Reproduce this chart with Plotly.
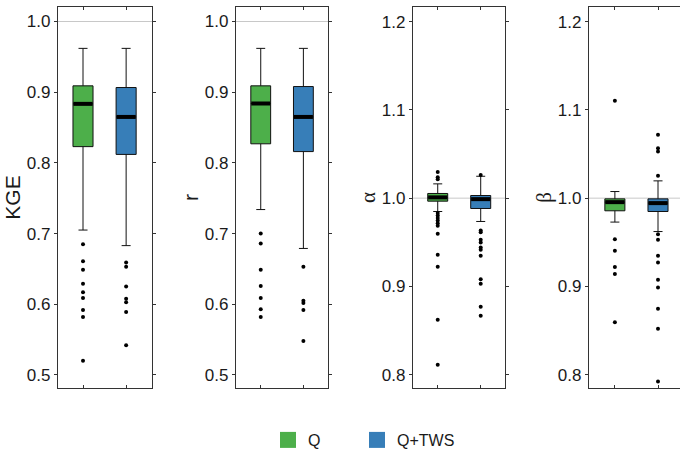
import plotly.graph_objects as go

# ---------------- data ----------------
groups = ["Q", "Q+TWS"]
colors = ["#4daf4a", "#377eb8"]
metrics = ["KGE", "r", "α", "β"]

# stats: [lowerfence, q1, median, q3, upperfence]
kge_q_stats = [0.705, 0.823, 0.8835, 0.909, 0.962]
kge_q_out = [0.685, 0.661, 0.649, 0.629, 0.617, 0.609, 0.592, 0.582, 0.520]
kge_qt_stats = [0.683, 0.812, 0.865, 0.9066, 0.962]
kge_qt_out = [0.659, 0.653, 0.625, 0.608, 0.603, 0.589, 0.542]

r_q_stats = [0.734, 0.827, 0.884, 0.909, 0.962]
r_q_out = [0.700, 0.686, 0.649, 0.626, 0.609, 0.593, 0.582]
r_qt_stats = [0.679, 0.816, 0.865, 0.908, 0.962]
r_qt_out = [0.653, 0.605, 0.602, 0.592, 0.548]

alpha_q_stats = [0.9849, 0.9966, 1.0009, 1.0053, 1.0162]
alpha_q_out = [1.0295, 1.0238, 1.0215, 0.9831, 0.9803, 0.9774, 0.9746, 0.9717,
               0.9687, 0.9596, 0.9358, 0.9223, 0.8622, 0.8113]
alpha_qt_stats = [0.9736, 0.9883, 0.9989, 1.003, 1.0248]
alpha_qt_out = [1.0262, 0.9634, 0.9615, 0.9528, 0.9498, 0.9441, 0.9415, 0.9347,
                0.9083, 0.903, 0.877, 0.8668]

beta_q_stats = [0.9729, 0.9857, 0.9955, 0.9992, 1.0075]
beta_q_out = [1.1102, 0.9536, 0.9404, 0.9219, 0.914, 0.8596]
beta_qt_stats = [0.9622, 0.9849, 0.9944, 0.9992, 1.0196]
beta_qt_out = [1.0717, 1.0566, 1.0528, 1.0253, 0.9592, 0.9528, 0.9347, 0.9272,
               0.9075, 0.8989, 0.8747, 0.8521, 0.7925]

panel_stats = [
    [kge_q_stats, kge_qt_stats],
    [r_q_stats, r_qt_stats],
    [alpha_q_stats, alpha_qt_stats],
    [beta_q_stats, beta_qt_stats],
]
panel_out = [
    [kge_q_out, kge_qt_out],
    [r_q_out, r_qt_out],
    [alpha_q_out, alpha_qt_out],
    [beta_q_out, beta_qt_out],
]
y_ranges = [[0.4816, 1.0205], [0.4816, 1.0205], [0.785, 1.2165], [0.785, 1.2165]]
y_ticks = [[0.5, 0.6, 0.7, 0.8, 0.9, 1.0], [0.5, 0.6, 0.7, 0.8, 0.9, 1.0],
           [0.8, 0.9, 1.0, 1.1, 1.2], [0.8, 0.9, 1.0, 1.1, 1.2]]
ref_value = 1.0

# ---------------- layout geometry ----------------
W, H = 680, 449
x_domains = [[58 / W, 152 / W], [236 / W, 328 / W], [413 / W, 505 / W], [589 / W, 1.0]]
x_ranges = [[-0.58, 1.6], [-0.58, 1.577], [-0.575, 1.565], [-0.6, 1.51]]
y_domain = [1 - 388 / H, 1 - 7 / H]
box_w = 0.465
positions = [0, 1]
legend_x = [268 / W, 357 / W]

font_family = "Liberation Sans, Arial, sans-serif"
serif_family = "Liberation Serif, Times New Roman, serif"
title_fonts = [font_family, font_family, serif_family, serif_family]
axis_color = "#333333"
text_color = "#1a1a1a"

fig = go.Figure()

for p in range(4):
    xa = "x" if p == 0 else f"x{p+1}"
    ya = "y" if p == 0 else f"y{p+1}"
    for g in range(2):
        lo, q1, med, q3, hi = panel_stats[p][g]
        pos = positions[g]
        fig.add_trace(go.Box(
            x=[pos], q1=[q1], median=[med], q3=[q3], lowerfence=[lo], upperfence=[hi],
            width=box_w, whiskerwidth=0.45, fillcolor=colors[g],
            line=dict(color="#111111", width=1), boxpoints=False,
            xaxis=xa, yaxis=ya, showlegend=False, hoverinfo="skip",
        ))
        # thick median bar
        fig.add_trace(go.Scatter(
            x=[pos - box_w / 2 + 0.01, pos + box_w / 2 - 0.01], y=[med, med],
            mode="lines", line=dict(color="black", width=4),
            xaxis=xa, yaxis=ya, showlegend=False, hoverinfo="skip",
        ))
        outs = panel_out[p][g]
        fig.add_trace(go.Scatter(
            x=[pos] * len(outs), y=outs, mode="markers",
            marker=dict(color="black", size=4),
            xaxis=xa, yaxis=ya, showlegend=False, hoverinfo="skip",
        ))
    fig.add_shape(type="line", xref=f"{xa} domain", yref=ya, x0=0, x1=1,
                  y0=ref_value, y1=ref_value, line=dict(color="#c8c8c8", width=1),
                  layer="below")

# legend entries (one legend per entry for exact placement)
legend_names = ["legend", "legend2"]
for g in range(2):
    fig.add_trace(go.Scatter(
        x=[None], y=[None], mode="markers", name=groups[g],
        marker=dict(symbol="square", size=16, color=colors[g]),
        showlegend=True, legend=legend_names[g],
    ))

layout = dict(
    width=W, height=H,
    margin=dict(l=0, r=0, t=0, b=0, autoexpand=False),
    paper_bgcolor="white", plot_bgcolor="white",
    font=dict(family=font_family, size=16, color=text_color),
)
for g in range(2):
    layout[legend_names[g]] = dict(
        orientation="h", x=legend_x[g], y=1 - 440 / H, xanchor="left", yanchor="middle",
        font=dict(size=16, color=text_color), bgcolor="rgba(0,0,0,0)",
    )
for p in range(4):
    xk = "xaxis" if p == 0 else f"xaxis{p+1}"
    yk = "yaxis" if p == 0 else f"yaxis{p+1}"
    ya_anchor = "y" if p == 0 else f"y{p+1}"
    xa_anchor = "x" if p == 0 else f"x{p+1}"
    layout[xk] = dict(
        domain=x_domains[p], range=x_ranges[p], anchor=ya_anchor,
        showgrid=False, zeroline=False, showticklabels=False,
        tickvals=positions, ticks="inside", ticklen=3, tickcolor=axis_color,
        showline=True, linecolor=axis_color, linewidth=1.2, mirror="ticks",
    )
    layout[yk] = dict(
        domain=y_domain, range=y_ranges[p], anchor=xa_anchor,
        showgrid=False, zeroline=False,
        tickvals=y_ticks[p], tickformat=".1f", ticks="outside", ticklen=3,
        tickcolor=axis_color, tickfont=dict(size=17, color=text_color),
        showline=True, linecolor=axis_color, linewidth=1.2,
        mirror="ticks" if p < 3 else False,
        title=dict(text=metrics[p], font=dict(size=21, color=text_color, family=title_fonts[p]),
                   standoff=0),
    )
fig.update_layout(**layout)

fig.write_html("out.html")
